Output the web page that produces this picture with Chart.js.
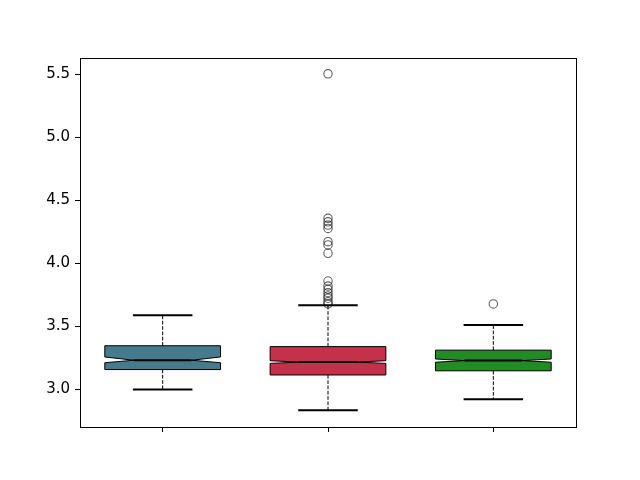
<!DOCTYPE html>
<html>
<head>
<meta charset="utf-8">
<script src="https://cdn.jsdelivr.net/npm/chart.js@4/dist/chart.umd.min.js"></script>
<style>
  html,body{margin:0;padding:0;background:#fff}
  #wrap{width:640px;height:480px}
</style>
</head>
<body>
<div id="wrap"><canvas id="c" width="640" height="480"></canvas></div>
<script>
  // ---------- data ----------
  const positions = [1, 2, 3];
  const boxColors = ['#457b8c', '#c5314b', '#238b23'];
  const q1 = [3.158, 3.115, 3.148];
  const q3 = [3.347, 3.340, 3.312];
  const medians = [3.232, 3.217, 3.229];
  const notchLo = [3.212, 3.207, 3.216];
  const notchHi = [3.258, 3.228, 3.242];
  const whiskerLo = [3.000, 2.835, 2.922];
  const whiskerHi = [3.590, 3.668, 3.512];
  const outliers = [
    [],
    [5.505, 4.358, 4.331, 4.305, 4.278, 4.173, 4.147, 4.081, 3.861, 3.821, 3.795, 3.768, 3.742, 3.724, 3.697, 3.680],
    [3.679]
  ];
  const yTicks = [3.0, 3.5, 4.0, 4.5, 5.0, 5.5];

  const halfBox = 0.35, notchInset = 0.175, capHalf = 0.18;

  const outlierPoints = outliers.flatMap((list, i) => list.map(v => ({x: positions[i], y: v})));

  // draw notched boxes, whiskers and caps through the chart scales
  const boxPlugin = {
    id: 'boxes',
    beforeDatasetsDraw(chart){
      const {ctx, scales:{x, y}} = chart;
      ctx.save();
      positions.forEach((p, i) => {
        const L = x.getPixelForValue(p - halfBox), R = x.getPixelForValue(p + halfBox);
        const nL = x.getPixelForValue(p - notchInset), nR = x.getPixelForValue(p + notchInset);
        const cx = x.getPixelForValue(p);
        const yq1 = y.getPixelForValue(q1[i]), yq3 = y.getPixelForValue(q3[i]);
        const ym = y.getPixelForValue(medians[i]);
        const ynl = y.getPixelForValue(notchLo[i]), ynh = y.getPixelForValue(notchHi[i]);
        const ywl = y.getPixelForValue(whiskerLo[i]), ywh = y.getPixelForValue(whiskerHi[i]);

        // whiskers
        ctx.strokeStyle = '#000'; ctx.lineWidth = 1;
        ctx.setLineDash([3.7, 1.6]);
        ctx.beginPath();
        ctx.moveTo(cx, yq3); ctx.lineTo(cx, ywh);
        ctx.moveTo(cx, yq1); ctx.lineTo(cx, ywl);
        ctx.stroke();
        ctx.setLineDash([]);

        // caps
        ctx.lineWidth = 2;
        ctx.beginPath();
        ctx.moveTo(x.getPixelForValue(p - capHalf), ywh); ctx.lineTo(x.getPixelForValue(p + capHalf), ywh);
        ctx.moveTo(x.getPixelForValue(p - capHalf), ywl); ctx.lineTo(x.getPixelForValue(p + capHalf), ywl);
        ctx.stroke();

        // notched box
        ctx.beginPath();
        ctx.moveTo(L, yq1); ctx.lineTo(R, yq1); ctx.lineTo(R, ynl); ctx.lineTo(nR, ym);
        ctx.lineTo(R, ynh); ctx.lineTo(R, yq3); ctx.lineTo(L, yq3); ctx.lineTo(L, ynh);
        ctx.lineTo(nL, ym); ctx.lineTo(L, ynl); ctx.closePath();
        ctx.fillStyle = boxColors[i]; ctx.fill();
        ctx.lineWidth = 1; ctx.strokeStyle = '#000'; ctx.stroke();

        // median
        ctx.lineWidth = 2;
        ctx.beginPath(); ctx.moveTo(nL, ym); ctx.lineTo(nR, ym); ctx.stroke();
      });
      ctx.restore();
    },
    afterDraw(chart){
      const {ctx, chartArea:a} = chart;
      ctx.save();
      ctx.strokeStyle = '#000'; ctx.lineWidth = 1;
      ctx.strokeRect(Math.round(a.left) + 0.5, Math.round(a.top) + 0.5, Math.round(a.right - a.left), Math.round(a.bottom - a.top));
      ctx.restore();
    }
  };

  new Chart(document.getElementById('c'), {
    type: 'scatter',
    data: {
      datasets: [{
        label: 'outliers',
        data: outlierPoints,
        pointRadius: 4.2,
        pointHoverRadius: 4.2,
        pointBorderWidth: 1.1,
        borderColor: 'rgba(0,0,0,0.62)',
        backgroundColor: 'rgba(0,0,0,0)'
      }]
    },
    options: {
      responsive: false,
      animation: false,
      layout: {padding: {top: 58, right: 64, left: 0, bottom: 0}},
      plugins: {legend: {display: false}, tooltip: {enabled: false}},
      scales: {
        x: {
          type: 'linear', min: 0.5, max: 3.5,
          afterBuildTicks: s => { s.ticks = positions.map(v => ({value: v})); },
          afterFit: s => { s.height = 53; },
          ticks: {callback: () => '', font: {family: 'DejaVu Sans', size: 15}},
          grid: {drawOnChartArea: false, drawTicks: true, tickLength: 5, color: '#000'},
          border: {display: true, color: '#000'}
        },
        y: {
          min: 2.702, max: 5.631,
          afterBuildTicks: s => { s.ticks = yTicks.map(v => ({value: v})); },
          afterFit: s => { s.width = 80; },
          ticks: {
            color: '#000', padding: 5,
            font: {family: 'DejaVu Sans', size: 15},
            callback: v => Number(v).toFixed(1)
          },
          grid: {drawOnChartArea: false, drawTicks: true, tickLength: 5, color: '#000'},
          border: {display: true, color: '#000'}
        }
      }
    },
    plugins: [boxPlugin]
  });
</script>
</body>
</html>
